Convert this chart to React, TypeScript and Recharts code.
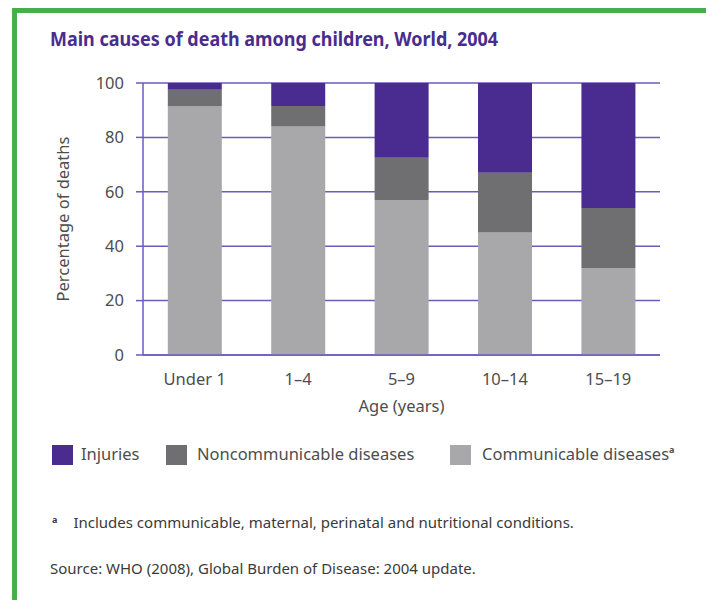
import React from 'react';
import { BarChart, Bar, XAxis, YAxis, CartesianGrid } from 'recharts';

const categories = ['Under 1', '1–4', '5–9', '10–14', '15–19'];
const communicable = [91.5, 84, 57, 45, 32];
const noncommunicable = [6, 7.5, 15.5, 22, 22];
const injuries = [2.5, 8.5, 27.5, 33, 46];
const yTicks = [0, 20, 40, 60, 80, 100];

const COLORS = {
  injuries: '#4a2c91',
  noncommunicable: '#6f6f71',
  communicable: '#a8a8ab',
};
const PURPLE = '#6a5bbd';
const TEXT = '#4d4d4d';
const BODY_FONT = "'Noto Sans', 'Open Sans', sans-serif";
const NARROW_FONT = "'Noto Sans', sans-serif";
const FS = 16.5;

const data = categories.map((c, i) => ({
  category: c,
  communicable: communicable[i],
  noncommunicable: noncommunicable[i],
  injuries: injuries[i],
}));

const legendItems = [
  { key: 'injuries', label: 'Injuries', color: COLORS.injuries, left: 52, textLeft: 81 },
  { key: 'noncommunicable', label: 'Noncommunicable diseases', color: COLORS.noncommunicable, left: 166, textLeft: 197 },
  { key: 'communicable', label: 'Communicable diseases', color: COLORS.communicable, left: 450, textLeft: 482, sup: 'a' },
];

export default function App() {
  return (
    <div style={{ position: 'absolute', left: 0, top: 0, width: 706, height: 600, background: '#fff', overflow: 'hidden' }}>
      {/* green frame */}
      <div style={{ position: 'absolute', left: 12, top: 8, right: 0, height: 5, background: '#46ae4c' }} />
      <div style={{ position: 'absolute', left: 12, top: 8, width: 5, bottom: 0, background: '#46ae4c' }} />

      <div style={{ position: 'absolute', left: 50, top: 26, fontFamily: NARROW_FONT, fontWeight: 700, fontSize: 19, color: '#4a2c8c', whiteSpace: 'nowrap', transform: 'scaleX(0.945)', transformOrigin: 'left center' }}>
        Main causes of death among children, World, 2004
      </div>

      <div style={{ position: 'absolute', left: 0, top: 0 }}>
        <BarChart
          width={706}
          height={600}
          data={data}
          margin={{ top: 83, right: 46, bottom: 185, left: 83 }}
          barCategoryGap="24%"
        >
          <CartesianGrid vertical={false} stroke={PURPLE} strokeWidth={1.5} horizontalValues={yTicks} />
          <XAxis
            dataKey="category"
            axisLine={{ stroke: PURPLE, strokeWidth: 1.5 }}
            tickLine={false}
            tick={{ fill: TEXT, fontSize: FS, fontFamily: BODY_FONT }}
            tickMargin={12}
            height={60}
            label={{ value: 'Age (years)', position: 'insideBottom', offset: 3, fill: TEXT, fontSize: FS, fontFamily: BODY_FONT }}
          />
          <YAxis
            domain={[0, 100]}
            ticks={yTicks}
            interval={0}
            width={60}
            axisLine={{ stroke: PURPLE, strokeWidth: 1.5 }}
            tickLine={{ stroke: PURPLE, strokeWidth: 1.5 }}
            tickSize={7}
            tickMargin={12}
            tick={{ fill: TEXT, fontSize: FS, fontFamily: BODY_FONT }}
            label={{ value: 'Percentage of deaths', angle: -90, position: 'insideLeft', offset: -20, style: { textAnchor: 'middle' }, fill: TEXT, fontSize: FS, fontFamily: BODY_FONT }}
          />
          <YAxis
            yAxisId="right"
            orientation="right"
            domain={[0, 100]}
            width={0}
            tick={false}
            tickLine={false}
            axisLine={{ stroke: PURPLE, strokeWidth: 1.5 }}
          />
          <Bar dataKey="communicable" stackId="a" fill={COLORS.communicable} isAnimationActive={false} />
          <Bar dataKey="noncommunicable" stackId="a" fill={COLORS.noncommunicable} isAnimationActive={false} />
          <Bar dataKey="injuries" stackId="a" fill={COLORS.injuries} isAnimationActive={false} />
        </BarChart>
      </div>

      {legendItems.map((it) => (
        <React.Fragment key={it.key}>
          <div style={{ position: 'absolute', left: it.left, top: 445, width: 21, height: 20, background: it.color }} />
          <div style={{ position: 'absolute', left: it.textLeft, top: 443, fontFamily: BODY_FONT, fontSize: FS, color: TEXT, whiteSpace: 'nowrap', lineHeight: '22px' }}>
            {it.label}
            {it.sup ? <span style={{ fontSize: 9, fontWeight: 700, position: 'relative', top: -7, lineHeight: 0 }}>{it.sup}</span> : null}
          </div>
        </React.Fragment>
      ))}

      <div style={{ position: 'absolute', left: 52, top: 511, fontFamily: NARROW_FONT, fontSize: 15, color: '#3a3a3a', whiteSpace: 'nowrap', lineHeight: '22px' }}>
        <span style={{ fontSize: 9, fontWeight: 700, marginRight: 16, position: 'relative', top: -5 }}>a</span>Includes communicable, maternal, perinatal and nutritional conditions.
      </div>
      <div style={{ position: 'absolute', left: 50, top: 557, fontFamily: NARROW_FONT, fontSize: 15, color: '#3a3a3a', whiteSpace: 'nowrap', lineHeight: '22px' }}>
        Source: WHO (2008), Global Burden of Disease: 2004 update.
      </div>
    </div>
  );
}
